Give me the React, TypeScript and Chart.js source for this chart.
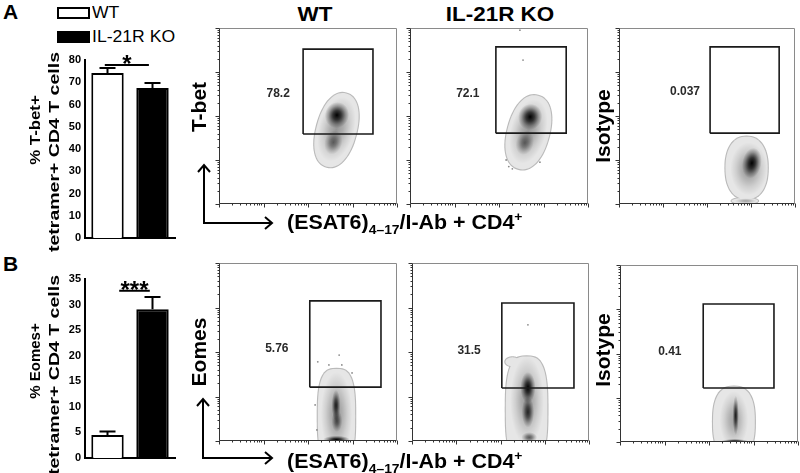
import React, { useEffect, useRef } from 'react';
import { Chart, registerables } from 'chart.js';

Chart.register(...registerables);

const FONT = "'Liberation Sans', Arial, Helvetica, sans-serif";

// ---------------- bar chart data ----------------
const groupLabels = ['WT', 'IL-21R KO'];
const barFills = ['#ffffff', '#000000'];

const tbetMeans = [74.2, 67.4];
const tbetErrors = [2.2, 2.3];
const tbetAxisMax = 80;
const tbetTickStep = 10;
const tbetAxisTitle = ['% T-bet+', 'tetramer+ CD4 T cells'];
const tbetSigSpan = [-0.06, 0.92];
const tbetSigLevel = 77.8;
const tbetSigMark = '*';

const eomesMeans = [4.5, 29.1];
const eomesErrors = [0.7, 2.4];
const eomesAxisMax = 35;
const eomesTickStep = 5;
const eomesAxisTitle = ['% Eomes+', 'tetramer+ CD4 T cells'];
const eomesSigSpan = [0.26, 0.94];
const eomesSigLevel = 32.7;
const eomesSigMark = '***';

// ---------------- flow plot data (log decades 0..4) ----------------
const flowRange = [0, 4];
const flowMajorTicks = [0, 1, 2, 3, 4];
const flowMinorMultipliers = [2, 3, 4, 5, 6, 7, 8, 9];

// gates: [x0, x1, y0, y1]
const tbetWtGate = [1.89, 3.46, 1.59, 3.52];
const tbetKoGate = [1.93, 3.51, 1.61, 3.57];
const tbetIsoGate = [2.07, 3.64, 1.61, 3.57];
const eomesWtGate = [2.04, 3.64, 1.21, 3.15];
const eomesKoGate = [2.03, 3.66, 1.19, 3.1];
const eomesIsoGate = [1.87, 3.46, 1.22, 3.12];

const tbetGateValues = ['78.2', '72.1', '0.037'];
const tbetGateValuePos = [[1.33, 2.5], [1.3, 2.5], [1.5, 2.55]];
const eomesGateValues = ['5.76', '31.5', '0.41'];
const eomesGateValuePos = [[1.3, 2.07], [1.29, 2.04], [1.12, 2.03]];

// population envelopes [x, y, rx, ry, tiltDeg, roundness]
// density cores [x, y, rx, ry, alpha, tiltDeg]
const tbetWtEnvelope = [[2.64, 1.68, 0.45, 0.86, 15, 2.2], [2.36, 1.28, 0.14, 0.18, 0, 2]];
const tbetWtCores = [[2.64, 1.7, 0.4, 0.75, 0.35, 15], [2.65, 2.02, 0.27, 0.3, 1.0, 15], [2.57, 1.4, 0.2, 0.28, 0.5, 15]];
const tbetWtDots: number[][] = [];

const tbetKoEnvelope = [[2.66, 1.63, 0.47, 0.86, 15, 2.2]];
const tbetKoCores = [[2.66, 1.65, 0.4, 0.75, 0.35, 15], [2.7, 1.98, 0.27, 0.3, 1.0, 15], [2.58, 1.39, 0.2, 0.28, 0.5, 15]];
const tbetKoDots = [[2.47, 3.95], [2.54, 3.27], [2.16, 1.0], [2.22, 0.85], [2.92, 0.95], [2.3, 0.8]];

const tbetIsoEnvelope = [[2.9, 0.82, 0.48, 0.71, 0, 2.3], [2.86, 0.07, 0.3, 0.07, 0, 2]];
const tbetIsoCores = [[2.95, 0.8, 0.42, 0.6, 0.35, 0], [3.02, 0.93, 0.22, 0.35, 1.0, 10], [2.88, 0.07, 0.25, 0.06, 0.3, 0]];
const tbetIsoDots: number[][] = [];

const eomesWtEnvelope = [[2.64, 0.55, 0.42, 1.07, 0, 3]];
const eomesWtCores = [[2.64, 0.6, 0.35, 0.95, 0.35, 0], [2.63, 0.8, 0.1, 0.35, 0.85, 0], [2.65, 0.45, 0.12, 0.25, 0.6, 0], [2.64, 0.03, 0.3, 0.09, 1.0, 0]];
const eomesWtDots = [[2.22, 1.78], [2.47, 1.71], [2.7, 1.93], [2.76, 1.71], [2.99, 1.53], [2.16, 0.81], [2.2, 0.25]];

const eomesKoEnvelope = [[2.59, 0.7, 0.47, 1.2, 0, 3], [2.27, 1.78, 0.16, 0.1, 0, 2]];
const eomesKoCores = [[2.6, 0.9, 0.38, 1.0, 0.35, 0], [2.62, 1.2, 0.17, 0.35, 1.0, 0], [2.62, 0.65, 0.14, 0.35, 0.8, 0], [2.65, 0.08, 0.18, 0.12, 0.6, 0]];
const eomesKoDots = [[2.62, 2.61]];

const eomesIsoEnvelope = [[2.56, 0.45, 0.47, 0.8, 0, 2.6]];
const eomesIsoCores = [[2.56, 0.5, 0.32, 0.65, 0.3, 0], [2.6, 0.6, 0.07, 0.45, 0.85, 0], [2.58, 0.02, 0.3, 0.05, 0.9, 0]];
const eomesIsoDots: number[][] = [];

// ---------------- chart factories ----------------
function makeBarConfig(
  means: number[], errors: number[], axisMax: number, step: number,
  sigSpan: number[], sigLevel: number, sigMark: string, padTop: number, padBottom: number
) {
  const errorBars = {
    id: 'errorBars',
    afterDatasetsDraw(chart: any) {
      const { ctx } = chart;
      const y = chart.scales.y;
      const meta = chart.getDatasetMeta(0);
      ctx.save();
      ctx.strokeStyle = '#000';
      ctx.lineWidth = 2;
      meta.data.forEach((bar: any, i: number) => {
        const yBase = y.getPixelForValue(means[i]);
        const yTop = y.getPixelForValue(means[i] + errors[i]);
        ctx.beginPath();
        ctx.moveTo(bar.x, yBase);
        ctx.lineTo(bar.x, yTop);
        ctx.moveTo(bar.x - 8, yTop);
        ctx.lineTo(bar.x + 8, yTop);
        ctx.stroke();
      });
      ctx.restore();
    },
  };
  const sigBracket = {
    id: 'sigBracket',
    afterDatasetsDraw(chart: any) {
      const { ctx } = chart;
      const { x, y } = chart.scales;
      const x0 = x.getPixelForValue(sigSpan[0]);
      const x1 = x.getPixelForValue(sigSpan[1]);
      const yy = y.getPixelForValue(sigLevel);
      ctx.save();
      ctx.strokeStyle = '#000';
      ctx.lineWidth = 2;
      ctx.beginPath();
      ctx.moveTo(x0, yy);
      ctx.lineTo(x1, yy);
      ctx.stroke();
      ctx.fillStyle = '#000';
      ctx.font = `bold 24px ${FONT}`;
      ctx.textAlign = 'center';
      ctx.textBaseline = 'alphabetic';
      ctx.fillText(sigMark, (x0 + x1) / 2, yy + 7);
      ctx.restore();
    },
  };
  return {
    type: 'bar',
    data: {
      labels: groupLabels,
      datasets: [{
        data: means,
        backgroundColor: barFills,
        borderColor: '#000',
        borderWidth: 2,
        barPercentage: 0.72,
        categoryPercentage: 1,
      }],
    },
    options: {
      animation: false,
      responsive: false,
      events: [],
      layout: { padding: { left: 0, right: 15, top: padTop, bottom: padBottom } },
      plugins: { legend: { display: false }, tooltip: { enabled: false } },
      scales: {
        x: {
          ticks: { display: false },
          grid: { display: false, drawTicks: false },
          border: { display: true, width: 2, color: '#000' },
          afterFit: (s: any) => { s.height = 0; },
        },
        y: {
          min: 0,
          max: axisMax,
          ticks: { stepSize: step, color: '#000', font: { family: FONT, size: 11, weight: 'bold' }, padding: 4 },
          grid: { display: false, drawTicks: false },
          border: { display: true, width: 2, color: '#000' },
          title: { display: false },
          afterFit: (s: any) => { s.width = 85; },
        },
      },
    },
    plugins: [errorBars, sigBracket],
  };
}

function superEllipsePath(ctx: any, cx: number, cy: number, rx: number, ry: number, tiltDeg: number, n: number) {
  const th = (tiltDeg * Math.PI) / 180;
  const c = Math.cos(th);
  const s = Math.sin(th);
  ctx.beginPath();
  const steps = 72;
  for (let i = 0; i <= steps; i++) {
    const t = (i / steps) * Math.PI * 2;
    const ct = Math.cos(t);
    const st = Math.sin(t);
    const ux = rx * Math.sign(ct) * Math.pow(Math.abs(ct), 2 / n);
    const uy = ry * Math.sign(st) * Math.pow(Math.abs(st), 2 / n);
    const px = cx + ux * c - uy * s;
    const py = cy + ux * s + uy * c;
    if (i === 0) ctx.moveTo(px, py);
    else ctx.lineTo(px, py);
  }
  ctx.closePath();
}

function makeFlowConfig(
  gate: number[], envelope: number[][], cores: number[][], dots: number[][], label: string, labelPos: number[]
) {
  const [gx0, gx1, gy0, gy1] = gate;
  const density = {
    id: 'flowDensity',
    beforeDatasetsDraw(chart: any) {
      const { ctx, chartArea } = chart;
      const { x, y } = chart.scales;
      const geo = (e: number[]) => {
        const cx = x.getPixelForValue(e[0]);
        const cy = y.getPixelForValue(e[1]);
        const rx = Math.abs(x.getPixelForValue(e[0] + e[2]) - cx);
        const ry = Math.abs(y.getPixelForValue(e[1] + e[3]) - cy);
        return { cx, cy, rx, ry };
      };
      ctx.save();
      ctx.beginPath();
      ctx.rect(chartArea.left, chartArea.top, chartArea.right - chartArea.left, chartArea.bottom - chartArea.top);
      ctx.clip();
      ctx.fillStyle = '#bababa';
      envelope.forEach((e) => {
        const g = geo(e);
        superEllipsePath(ctx, g.cx, g.cy, g.rx + 1.1, g.ry + 1.1, e[4], e[5]);
        ctx.fill();
      });
      ctx.fillStyle = '#e6e6e6';
      envelope.forEach((e) => {
        const g = geo(e);
        superEllipsePath(ctx, g.cx, g.cy, g.rx, g.ry, e[4], e[5]);
        ctx.fill();
      });
      cores.forEach((c) => {
        const g = geo(c);
        const a = c[4];
        ctx.save();
        ctx.translate(g.cx, g.cy);
        ctx.rotate(((c[5] || 0) * Math.PI) / 180);
        ctx.scale(g.rx, g.ry);
        const grad = ctx.createRadialGradient(0, 0, 0, 0, 0, 1);
        grad.addColorStop(0, `rgba(0,0,0,${a})`);
        grad.addColorStop(0.35, `rgba(0,0,0,${a * 0.72})`);
        grad.addColorStop(0.7, `rgba(0,0,0,${a * 0.28})`);
        grad.addColorStop(1, 'rgba(0,0,0,0)');
        ctx.fillStyle = grad;
        ctx.beginPath();
        ctx.arc(0, 0, 1, 0, Math.PI * 2);
        ctx.fill();
        ctx.restore();
      });
      ctx.restore();
    },
  };
  const axes = {
    id: 'flowAxes',
    afterDatasetsDraw(chart: any) {
      const { ctx, chartArea } = chart;
      const { x, y } = chart.scales;
      const L = Math.round(chartArea.left) + 0.5;
      const R = Math.round(chartArea.right) - 0.5;
      const T = Math.round(chartArea.top) + 0.5;
      const B = Math.round(chartArea.bottom) - 0.5;
      ctx.save();
      ctx.lineWidth = 1;
      ctx.strokeStyle = '#8a8a8a';
      ctx.beginPath();
      ctx.moveTo(L, T); ctx.lineTo(R, T); ctx.lineTo(R, B);
      ctx.stroke();
      ctx.strokeStyle = '#333';
      ctx.beginPath();
      ctx.moveTo(L, T); ctx.lineTo(L, B); ctx.lineTo(R, B);
      ctx.stroke();
      const tick = (v: number, len: number) => {
        const px = Math.round(x.getPixelForValue(v)) + 0.5;
        const py = Math.round(y.getPixelForValue(v)) + 0.5;
        ctx.moveTo(px, B); ctx.lineTo(px, B + len);
        ctx.moveTo(L, py); ctx.lineTo(L - len, py);
      };
      ctx.beginPath();
      flowMajorTicks.forEach((v) => tick(v, 4));
      for (let k = flowRange[0]; k < flowRange[1]; k++) {
        flowMinorMultipliers.forEach((m) => tick(k + Math.log10(m), 2));
      }
      ctx.stroke();
      ctx.restore();
    },
  };
  const gateLabel = {
    id: 'gateLabel',
    afterDatasetsDraw(chart: any) {
      const { ctx } = chart;
      const { x, y } = chart.scales;
      ctx.save();
      ctx.fillStyle = '#2a2a2a';
      ctx.font = `bold 12px ${FONT}`;
      ctx.textAlign = 'center';
      ctx.textBaseline = 'middle';
      ctx.fillText(label, x.getPixelForValue(labelPos[0]), y.getPixelForValue(labelPos[1]));
      ctx.restore();
    },
  };
  return {
    type: 'scatter',
    data: {
      datasets: [
        {
          data: [
            { x: gx0, y: gy0 }, { x: gx1, y: gy0 }, { x: gx1, y: gy1 }, { x: gx0, y: gy1 }, { x: gx0, y: gy0 },
          ],
          showLine: true,
          borderColor: '#1a1a1a',
          borderWidth: 1.6,
          pointRadius: 0,
          tension: 0,
          fill: false,
        },
        {
          data: dots.map(([dx, dy]) => ({ x: dx, y: dy })),
          pointRadius: 0.9,
          backgroundColor: '#8a8a8a',
          borderWidth: 0,
        },
      ],
    },
    options: {
      animation: false,
      responsive: false,
      events: [],
      layout: { padding: { left: 10, top: 4, right: 4, bottom: 8 } },
      plugins: { legend: { display: false }, tooltip: { enabled: false } },
      scales: {
        x: { type: 'linear', min: flowRange[0], max: flowRange[1], display: false },
        y: { type: 'linear', min: flowRange[0], max: flowRange[1], display: false },
      },
    },
    plugins: [density, axes, gateLabel],
  };
}

// ---------------- components ----------------
function ChartBox({ left, top, width, height, make }: { left: number; top: number; width: number; height: number; make: () => any }) {
  const ref = useRef<HTMLCanvasElement | null>(null);
  useEffect(() => {
    if (!ref.current) return;
    const chart = new Chart(ref.current, make());
    return () => chart.destroy();
  }, []);
  return (
    <div style={{ position: 'absolute', left, top, width, height }}>
      <canvas ref={ref} width={width} height={height} style={{ display: 'block', width, height }} />
    </div>
  );
}

function FlowBox({ fx, fy, fw, fh, gate, envelope, cores, dots, label, labelPos }: any) {
  return (
    <ChartBox
      left={fx - 10}
      top={fy - 4}
      width={fw + 14}
      height={fh + 12}
      make={() => makeFlowConfig(gate, envelope, cores, dots, label, labelPos)}
    />
  );
}

function Text({ x, cy, size, bold = true, anchor = 'start', sx = 1, children }: any) {
  const tx = anchor === 'middle' ? 'translateX(-50%) ' : '';
  return (
    <div
      style={{
        position: 'absolute',
        left: x,
        top: cy - size / 2,
        fontSize: size,
        lineHeight: `${size}px`,
        fontWeight: bold ? 'bold' : 'normal',
        whiteSpace: 'nowrap',
        transformOrigin: anchor === 'middle' ? 'center center' : 'left center',
        transform: `${tx}scaleX(${sx})`,
      }}
    >
      {children}
    </div>
  );
}

function VText({ cx, cy, size, sx = 1, children }: any) {
  return (
    <div
      style={{
        position: 'absolute',
        left: cx,
        top: cy,
        fontSize: size,
        lineHeight: `${size}px`,
        fontWeight: 'bold',
        whiteSpace: 'nowrap',
        transform: `translate(-50%, -50%) rotate(-90deg) scaleX(${sx})`,
      }}
    >
      {children}
    </div>
  );
}

function XLabel({ cy }: { cy: number }) {
  return (
    <div
      style={{
        position: 'absolute',
        left: 287,
        top: cy - 10,
        fontSize: 20,
        lineHeight: '20px',
        fontWeight: 'bold',
        whiteSpace: 'nowrap',
        transformOrigin: 'left center',
        transform: 'scaleX(1.07)',
      }}
    >
      (ESAT6)<span style={{ fontSize: 13, position: 'relative', top: 5 }}>4–17</span>/I-Ab + CD4
      <span style={{ fontSize: 13, position: 'relative', top: -8 }}>+</span>
    </div>
  );
}

export default function App() {
  return (
    <div
      style={{
        position: 'absolute',
        left: 0,
        top: 0,
        width: 800,
        height: 473,
        overflow: 'hidden',
        background: '#fff',
        color: '#000',
        fontFamily: FONT,
      }}
    >
      {/* panel letters */}
      <Text x={3} cy={11} size={21}>A</Text>
      <Text x={3} cy={263} size={21}>B</Text>

      {/* legend */}
      <div style={{ position: 'absolute', left: 57, top: 7, width: 33, height: 12, border: '2.5px solid #000', boxSizing: 'border-box', background: '#fff' }} />
      <div style={{ position: 'absolute', left: 57, top: 31, width: 33, height: 12, background: '#000' }} />
      <Text x={92} cy={13} size={16} bold={false} sx={1.1}>{groupLabels[0]}</Text>
      <Text x={92} cy={37} size={16} bold={false} sx={1.1}>{groupLabels[1]}</Text>

      {/* bar charts */}
      <ChartBox
        left={0} top={40} width={190} height={210}
        make={() => makeBarConfig(tbetMeans, tbetErrors, tbetAxisMax, tbetTickStep, tbetSigSpan, tbetSigLevel, tbetSigMark, 20, 12)}
      />
      <ChartBox
        left={0} top={265} width={190} height={205}
        make={() => makeBarConfig(eomesMeans, eomesErrors, eomesAxisMax, eomesTickStep, eomesSigSpan, eomesSigLevel, eomesSigMark, 14, 12)}
      />
      <VText cx={33.5} cy={130} size={15} sx={1.12}>{tbetAxisTitle[0]}</VText>
      <VText cx={52.5} cy={152} size={15} sx={1.3}>{tbetAxisTitle[1]}</VText>
      <VText cx={33.5} cy={361} size={15}>{eomesAxisTitle[0]}</VText>
      <VText cx={52.5} cy={375} size={15} sx={1.3}>{eomesAxisTitle[1]}</VText>

      {/* column titles */}
      <Text x={315} cy={13.5} size={20} anchor="middle" sx={1.12}>WT</Text>
      <Text x={500} cy={13.5} size={20} anchor="middle" sx={1.12}>IL-21R KO</Text>

      {/* flow plots, row A */}
      <FlowBox fx={219} fy={28} fw={178} fh={176} gate={tbetWtGate} envelope={tbetWtEnvelope} cores={tbetWtCores} dots={tbetWtDots} label={tbetGateValues[0]} labelPos={tbetGateValuePos[0]} />
      <FlowBox fx={410} fy={28} fw={178} fh={176} gate={tbetKoGate} envelope={tbetKoEnvelope} cores={tbetKoCores} dots={tbetKoDots} label={tbetGateValues[1]} labelPos={tbetGateValuePos[1]} />
      <FlowBox fx={619} fy={28} fw={176} fh={176} gate={tbetIsoGate} envelope={tbetIsoEnvelope} cores={tbetIsoCores} dots={tbetIsoDots} label={tbetGateValues[2]} labelPos={tbetGateValuePos[2]} />

      {/* flow plots, row B */}
      <FlowBox fx={219} fy={263} fw={178} fh={178} gate={eomesWtGate} envelope={eomesWtEnvelope} cores={eomesWtCores} dots={eomesWtDots} label={eomesGateValues[0]} labelPos={eomesGateValuePos[0]} />
      <FlowBox fx={412} fy={263} fw={177} fh={178} gate={eomesKoGate} envelope={eomesKoEnvelope} cores={eomesKoCores} dots={eomesKoDots} label={eomesGateValues[1]} labelPos={eomesGateValuePos[1]} />
      <FlowBox fx={620} fy={265} fw={178} fh={177} gate={eomesIsoGate} envelope={eomesIsoEnvelope} cores={eomesIsoCores} dots={eomesIsoDots} label={eomesGateValues[2]} labelPos={eomesGateValuePos[2]} />

      {/* rotated axis titles */}
      <VText cx={197.5} cy={107} size={21}>T-bet</VText>
      <VText cx={197.5} cy={352} size={21}>Eomes</VText>
      <VText cx={601.5} cy={126} size={21}>Isotype</VText>
      <VText cx={601.5} cy={350} size={21}>Isotype</VText>

      {/* axis arrows */}
      <svg width={800} height={473} style={{ position: 'absolute', left: 0, top: 0, pointerEvents: 'none' }}>
        <g stroke="#000" strokeWidth={2} fill="none" strokeLinejoin="miter">
          <polyline points="204,165 204,223 272,223" />
          <polyline points="198,172 204,165 210,172" />
          <polyline points="265,217 272,223 265,229" />
          <polyline points="203,399 203,458 272,458" />
          <polyline points="197,406 203,399 209,406" />
          <polyline points="265,452 272,458 265,464" />
        </g>
      </svg>

      <XLabel cy={222} />
      <XLabel cy={461} />
    </div>
  );
}
